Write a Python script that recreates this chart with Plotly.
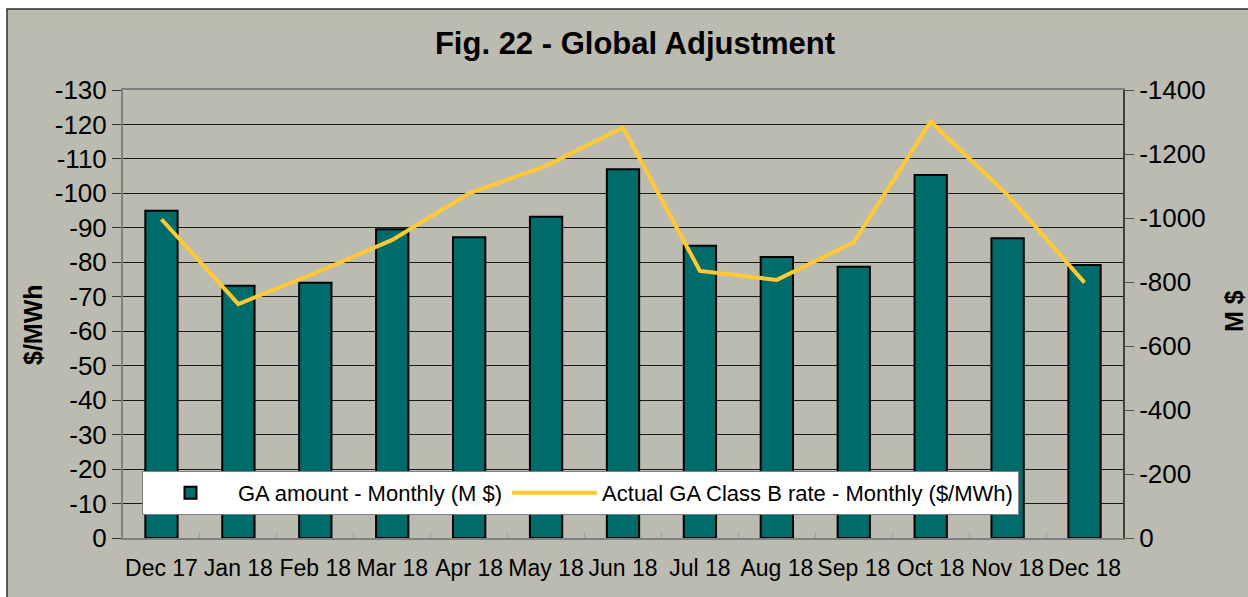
import plotly.graph_objects as go

months = ["Dec 17", "Jan 18", "Feb 18", "Mar 18", "Apr 18", "May 18", "Jun 18",
          "Jul 18", "Aug 18", "Sep 18", "Oct 18", "Nov 18", "Dec 18"]
ga_amount_m = [-1023, -788, -798, -965, -940, -1004, -1152, -913, -878, -848, -1134, -937, -853]
ga_rate_b = [-92.5, -67.9, -76.9, -86.5, -100.0, -108.0, -119.1, -77.5, -74.9, -85.8, -120.8, -99.5, -74.1]

left_ticks = list(range(0, -131, -10))
right_ticks = list(range(0, -1401, -200))

FONT = "Liberation Sans, Arial, sans-serif"
W, H = 1248, 597
L, R, T, B = 123, 125, 90, 59
PW, PH = W - L - R, H - T - B

fig = go.Figure()
fig.add_trace(go.Bar(
    x=months, y=ga_amount_m, name="GA amount - Monthly (M $)",
    marker=dict(color="#006B6B", line=dict(color="#000000", width=2)),
    yaxis="y",
))
fig.add_trace(go.Scatter(
    x=months, y=ga_rate_b, name="Actual GA Class B rate - Monthly ($/MWh)",
    mode="lines", line=dict(color="#FFC933", width=4),
    yaxis="y2",
))

def px_x(p):
    return (p - L) / PW

def px_y(p):
    return (H - B - p) / PH

fig.update_layout(
    width=W, height=H,
    margin=dict(l=L, r=R, t=T, b=B, autoexpand=False),
    paper_bgcolor="#FFFFFF",
    plot_bgcolor="#FFFFFF",
    font=dict(family=FONT, color="#000000"),
    bargap=0.58,
    showlegend=True,
    title=dict(text="<b>Fig. 22 - Global Adjustment</b>", x=635 / W, xanchor="center",
               y=1 - 43 / H, yanchor="middle", font=dict(size=31, family=FONT, color="#000000")),
    xaxis=dict(
        type="category", showgrid=False, ticks="inside", tickson="boundaries",
        ticklen=6, tickcolor="#A0A0A0", showline=True, linecolor="#808080", linewidth=2,
        mirror=True, tickfont=dict(size=23, family=FONT), tickangle=0, ticklabelstandoff=8,
    ),
    # M $ axis (bars) - drawn on the right
    yaxis=dict(
        range=[0, -1400], tickvals=right_ticks, ticktext=[str(v) for v in right_ticks],
        side="right", showgrid=False, zeroline=False,
        showline=True, linecolor="#404040", linewidth=2, ticks="outside", ticklen=9,
        tickcolor="#555555", tickfont=dict(size=26, family=FONT),
    ),
    # $/MWh axis (line) - drawn on the left, owns the gridlines
    yaxis2=dict(
        range=[0, -130], tickvals=left_ticks, ticktext=[str(v) for v in left_ticks],
        overlaying="y", side="left",
        showgrid=True, gridcolor="#1A1A1A", gridwidth=1, zeroline=False,
        showline=True, linecolor="#808080", linewidth=2, ticks="outside", ticklen=9,
        tickcolor="#333333", tickfont=dict(size=26, family=FONT),
    ),
    legend=dict(
        orientation="h", x=px_x(142), y=px_y(471), xanchor="left", yanchor="top",
        bgcolor="#FFFFFF", bordercolor="#808080", borderwidth=1,
        font=dict(size=22, family=FONT), itemwidth=85, traceorder="normal",
    ),
    shapes=[dict(
        type="rect", xref="paper", yref="paper", layer="below",
        x0=px_x(7), x1=px_x(W + 5), y0=px_y(H + 5), y1=px_y(9),
        fillcolor="#BBBBB1", line=dict(color="#303030", width=1.5),
    )],
    annotations=[
        dict(text="<b>$/MWh</b>", xref="paper", yref="paper", x=px_x(33), y=px_y(325),
             textangle=-90, showarrow=False, font=dict(size=25, family=FONT),
             xanchor="center", yanchor="middle"),
        dict(text="<b>M $</b>", xref="paper", yref="paper", x=px_x(1234), y=px_y(311),
             textangle=-90, showarrow=False, font=dict(size=25, family=FONT),
             xanchor="center", yanchor="middle"),
    ],
)

fig.write_html("out.html", config={"displayModeBar": False},
               post_script="document.body.style.margin='0';document.body.style.overflow='hidden';")
